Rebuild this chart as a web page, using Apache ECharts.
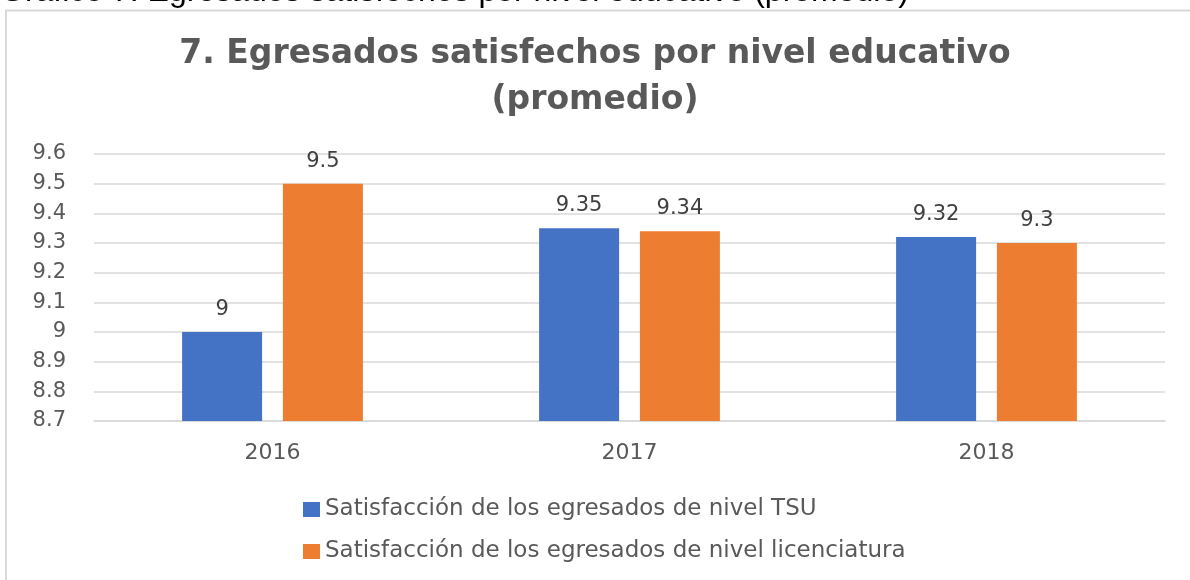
<!DOCTYPE html>
<html>
<head>
<meta charset="utf-8">
<script src="https://cdn.jsdelivr.net/npm/echarts@6/dist/echarts.min.js"></script>
<style>
  html, body { margin: 0; padding: 0; background: #fff; }
  #chart { width: 1190px; height: 580px; }
</style>
</head>
<body>
<div id="chart"></div>
<script>
// data
const years = ['2016', '2017', '2018']
const tsuValues = [9, 9.35, 9.32]
const licValues = [9.5, 9.34, 9.3]
const seriesNames = [
  'Satisfacción de los egresados de nivel TSU',
  'Satisfacción de los egresados de nivel licenciatura'
]

const myChart = echarts.init(document.getElementById('chart'))

const FONT = 'DejaVu Sans'

const labelStyle = {
  show: true,
  position: 'top',
  distance: 12,
  color: '#404040',
  fontSize: 21,
  fontFamily: FONT
}

const option = {
  backgroundColor: '#fff',
  animation: false,
  title: {
    text: '7. Egresados satisfechos por nivel educativo\n(promedio)',
    left: 'center',
    top: 26,
    textStyle: {
      color: '#595959',
      fontSize: 33,
      fontWeight: 'bold',
      fontFamily: FONT,
      lineHeight: 46
    }
  },
  graphic: [
    {
      // caption cut off at the top of the picture
      type: 'text',
      silent: true,
      style: {
        x: 0,
        y: 8.5,
        verticalAlign: 'bottom',
        text: 'Gráfico 7. Egresados satisfechos por nivel educativo (promedio)',
        fill: '#000',
        font: '32px "Liberation Sans"'
      }
    },
    {
      // frame of the chart area
      type: 'rect',
      shape: { x: 6, y: 10.5, width: 1200, height: 600 },
      style: { fill: 'none', stroke: '#d9d9d9', lineWidth: 2 },
      silent: true
    }
  ],
  legend: {
    orient: 'vertical',
    left: 298,
    top: 493,
    itemWidth: 17,
    itemHeight: 15,
    itemGap: 19,
    icon: 'rect',
    textStyle: { color: '#595959', fontSize: 23, fontFamily: FONT },
    data: seriesNames
  },
  grid: {
    left: 94,
    right: 25,
    top: 154,
    bottom: 159
  },
  xAxis: {
    type: 'category',
    data: years,
    axisTick: { show: false },
    axisLine: { lineStyle: { color: '#d9d9d9', width: 1.5 } },
    axisLabel: { color: '#595959', fontSize: 22, margin: 21, fontFamily: FONT }
  },
  yAxis: {
    type: 'value',
    min: 8.7,
    max: 9.6,
    interval: 0.1,
    axisLine: { show: false },
    axisTick: { show: false },
    splitLine: { lineStyle: { color: '#d9d9d9', width: 1.5 } },
    axisLabel: {
      color: '#595959',
      fontSize: 21,
      margin: 28,
      fontFamily: FONT,
      formatter: v => String(Number(v.toFixed(1)))
    }
  },
  series: [
    {
      name: seriesNames[0],
      type: 'bar',
      data: tsuValues,
      barWidth: 80,
      barGap: '26%',
      itemStyle: { color: '#4472C4' },
      label: labelStyle
    },
    {
      name: seriesNames[1],
      type: 'bar',
      data: licValues,
      barWidth: 80,
      itemStyle: { color: '#ED7D31' },
      label: labelStyle
    }
  ]
}

myChart.setOption(option)
</script>
</body>
</html>
